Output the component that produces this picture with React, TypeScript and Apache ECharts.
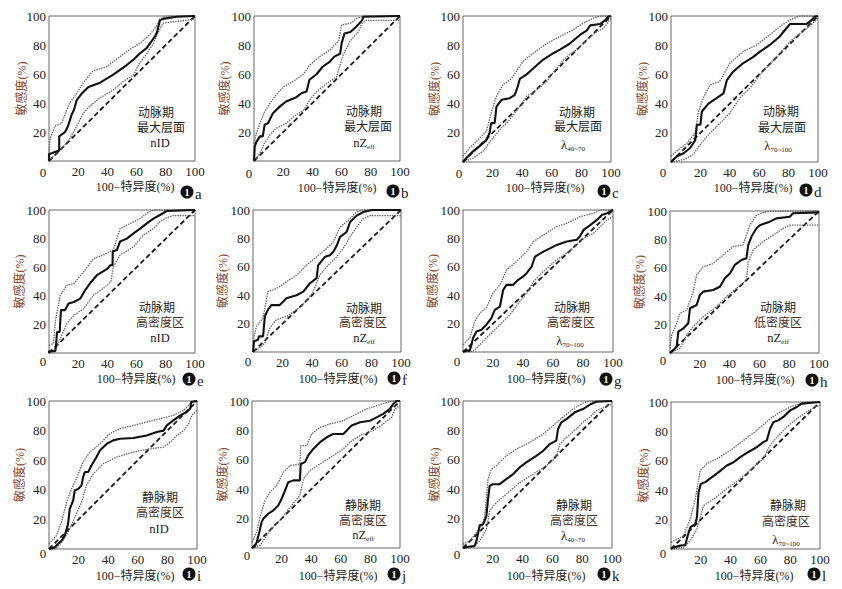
import React, { useEffect, useRef } from "react";
import * as echarts from "echarts";

// ---------- data ----------
const xTicks = [0, 20, 40, 60, 80, 100];
const diagonal = [[0, 0], [100, 100]];

const aMain = [[0,0],[0,4.6],[6.4,7],[7,7],[7,17],[11,20],[13,24],[15.5,32],[17,35],[19,42],[22,46],[27,51],[35,54],[44,59.5],[53,66],[58,70],[62,74],[67,78],[72.6,86],[74,89],[76,97],[78,98],[87.4,99.5],[100,100]];
const aUpper = [[0,5.7],[0.7,15],[4,24],[8.7,26],[14,40],[18,45],[23.5,54],[30,62],[39.5,65],[46,70],[55.5,77],[62,81],[69,87],[73.7,93],[76,98],[80.6,100],[100,100]];
const aLower = [[0,0],[5,5.7],[10,10],[14,15],[19,24],[23.5,33],[28,38],[35,43.5],[44,49],[51,55],[58,59.5],[62,67.5],[67,74],[71.5,81],[75,89],[78,95],[85,96],[94,97],[100,98]];

const bMain = [[0,0],[0.5,10],[1.6,13],[4,17],[6,17],[7.3,25],[9.6,26],[13,33],[17.6,37.5],[22,41],[29,44],[32.5,46.7],[36,48],[38,56],[43,60],[47,65],[52,68.5],[55,72],[59,74],[60,81],[62,88],[66,89],[70,92.6],[74,97],[75,99.5],[100,100]];
const bUpper = [[0,12],[1.6,19],[4,26],[7.3,34],[11,40],[15,45.5],[20,51],[27,55],[34,60],[38,66],[45,72],[52,76.5],[58,83],[60,93.8],[66,95],[70,98],[75,100],[100,100]];
const bLower = [[0,0],[4,5],[7,12],[11,18],[15,22.5],[22,26],[29,32],[34,35],[38,42],[43,48],[50,53.5],[56.5,58],[61,73],[66,83],[71.4,89],[74,95],[77,97],[100,97]];

const cMain = [[0,0],[2.3,2.7],[6.8,7.3],[11,10.7],[15.8,15],[18,20],[19,26.6],[21.4,26.6],[22.6,38],[26,42.6],[31.6,43.7],[35,46],[37,51.7],[38.4,57],[43,60],[47.4,64],[54,70],[61,74.5],[65.5,77],[72,81],[79,87],[83.5,90],[86,93.6],[92.5,94.5],[96,97],[98,99.5],[100,100]];
const cUpper = [[0,4],[4.5,9.6],[10,15],[15.8,21],[19,33.5],[22.6,45],[27,53],[32.7,57],[36,62],[40.6,69],[47.4,74.5],[56.4,81],[65.5,86],[74.5,90.6],[81,95],[88,98.4],[92.5,100],[100,100]];
const cLower = [[0,0],[6.8,2.7],[13.5,7.3],[19,15],[24.8,22],[31.6,29],[38.4,38],[43,45],[49.7,49.4],[56.4,55],[63,64],[70,72],[76.7,77],[83.5,83.6],[90,89],[95,91.6],[98,96],[100,98.4]];

const dMain = [[0,0],[4,3.9],[8.6,6],[13,9.6],[16.5,15],[17.6,25.5],[20,25.5],[21,34.6],[25.5,40],[31,43.7],[35.7,47],[38,56],[42.4,62],[49,67.6],[56,72],[60.5,75.6],[67,80],[74,86],[78.5,91.6],[81,94.5],[92,94.5],[95.5,97],[97.7,99.5],[100,100]];
const dUpper = [[0,4],[5,8.4],[11,13],[16.5,20],[18.7,34.6],[22,44],[26.6,53],[33,55],[40,67.6],[49,75.6],[58,80],[67,87],[74,92.7],[81,97.5],[87.6,100],[100,100]];
const dLower = [[0,0],[8.6,1.6],[15,5],[20,12],[25.5,18.7],[33.4,26.6],[40,33.5],[47,44],[53.7,50.6],[60.5,59.7],[67,66.5],[74,74.5],[81,82.5],[87.6,88],[94,92.7],[99,97.5],[100,98.4]];

const eMain = [[0,0],[0,1.2],[4.3,1.2],[5,7.7],[5.5,14.7],[7.3,14.7],[8.2,30],[11,30],[13.4,34.6],[17,35.7],[21.4,38],[24.8,44],[28,48.6],[32.8,54.4],[39.6,58.6],[42,61.4],[43.5,61.4],[43.7,71],[46.5,72],[48.7,78],[53.3,80],[57.9,83.6],[62.4,87],[67,90.6],[71.5,94],[76,96.5],[80.6,99.3],[100,100]];
const eUpper = [[0,5.4],[3,6.5],[4.3,21.7],[7.7,40.4],[12.3,47.4],[17,48.6],[23.7,56.8],[30.5,66],[37,68.5],[44,72],[48.7,87],[55.6,90.6],[62.4,94],[67,97.7],[71.5,100],[100,100]];
const eLower = [[0,0],[4.3,1.9],[7.7,10],[12.3,20.6],[17,26.4],[23.7,31],[30.5,40.4],[37,45],[42.4,49.8],[44,60.3],[48.7,68.5],[57.9,74.3],[64.7,82.5],[71.5,87],[76,91.8],[80.6,94.6],[85,96],[100,96]];

const fMain = [[0,0],[0.7,7.5],[3.4,8.6],[4,11],[6.8,11],[8,25],[10,29.7],[12.4,33],[18,33],[22.6,37.9],[29.4,40],[34,42.5],[38.5,48.4],[43,52],[44,61],[48.6,67],[52,68.2],[54.3,70.6],[56.6,75],[58.8,81],[63.3,84.6],[65.6,91.6],[70,96],[74.6,98.6],[80.3,100],[100,100]];
const fUpper = [[0,7.5],[2.3,18],[6.8,23.8],[10,42.5],[13.6,43.7],[18,46],[22.6,49.5],[29.4,54],[36,61],[43,67],[49.8,73],[54.3,77.6],[58.8,88],[64.5,92.8],[70,98.6],[74.6,100],[100,100]];
const fLower = [[0,0],[4.5,2.8],[8,6.3],[11.3,16.8],[15.8,22.7],[22.6,25],[29.4,29.7],[36,35.5],[40.7,42.5],[45,54],[49.8,60],[56.6,67],[61,73],[65.6,81],[70,88],[74.6,94],[79,96],[100,96]];

const gMain = [[0,0],[2.2,1],[4.5,1],[5.6,5],[6.7,9.8],[9,14.5],[12.3,15.7],[15.6,19.2],[19,24],[21.2,29.7],[24.6,32],[26.8,43.8],[29,47.3],[33.5,47.3],[36.8,50.8],[40.2,53.2],[42.4,55.5],[45.8,60.2],[48,67.2],[53.6,70.7],[58,73],[62.5,75.4],[69.2,77.8],[75.9,79],[78,81.5],[80.4,86],[85,89.5],[89.3,93],[92.6,96.5],[96,97.7],[100,100]];
const gUpper = [[0,5],[4.5,9.8],[7.8,21.5],[11.2,27.4],[15.6,31],[20,41.5],[24.6,47.3],[29,57.8],[35.7,63.7],[42.4,70.7],[47,77.8],[53.6,82.4],[62.5,88.3],[69.2,90.6],[78,95.3],[87,97.7],[91.5,100],[100,100]];
const gLower = [[0,0],[6.7,0.5],[11.2,5],[17.8,12.2],[24.6,19.2],[31.2,26.2],[38,35.6],[42.4,41.5],[47,49.6],[53.6,56.7],[62.5,65],[69.2,69.6],[76,75.4],[80.4,80],[87,83.6],[91.5,88.3],[96,93],[100,95.3]];

const hMain = [[0,0],[2.2,2],[4.5,4.5],[5.6,15],[9,17.4],[12.3,21],[13.4,31.5],[17.9,33.8],[20,40.8],[22.3,43.2],[29,44.4],[33.5,46.7],[36.8,52.6],[40.2,56],[43.5,62],[48,65.5],[51.3,66.7],[52.5,76],[54.7,82],[58,87.8],[60.3,90],[67,92.5],[71.4,94.8],[80.4,96],[82.6,98.4],[100,99]];
const hUpper = [[0,3.3],[1.1,12.7],[3.3,17.4],[6.7,28],[11.2,30.3],[15.6,43.2],[17.9,55],[22.3,60.8],[29,63],[35.7,69],[42.4,75],[49,76],[53.6,90],[58,97],[62.5,99],[69.2,100],[100,100]];
const hLower = [[0,0],[6.7,3.3],[11.2,12.7],[15.6,18.5],[22.3,25.6],[31.2,32.6],[38,39.7],[44.6,45.5],[51.3,51.4],[52.5,64.3],[55.8,72.5],[62.5,78.4],[69.2,83],[76,87.8],[80.4,90],[100,90]];

const iMain = [[0,0],[3.8,1.1],[6,3.4],[8.4,5.6],[10.6,9],[12.9,17],[14,27],[16.3,32.7],[17.4,39.5],[19.7,40.6],[22,43],[23,48.5],[24.2,52],[26.5,52],[28.7,56.4],[32,62],[34.4,66.6],[38.9,71],[43.4,73.4],[48,74.5],[57,75],[66,76.7],[72.8,79],[77.4,80],[79.6,83.5],[84,86.9],[88.7,90.3],[93,92.6],[95.5,95],[96,99.3],[100,100]];
const iUpper = [[0,3.4],[5,9],[8.4,18],[11.8,31.6],[15.2,40.6],[18.5,47.4],[23,58.7],[27.6,65.5],[34.4,71],[41,77.9],[48,81.3],[57,83.5],[66,85.8],[75,88],[84,90.3],[91,93.7],[95.5,98.2],[98,100],[100,100]];
const iLower = [[0,0],[5,0.5],[9.5,5.6],[14,13.5],[18.5,23.7],[22,31.6],[25.3,43],[29.9,50.8],[36.7,57.6],[45.7,62],[57,65.5],[68.3,67.7],[77.4,68.8],[81.9,72.2],[86.4,76.7],[91,80],[94.3,84.7],[96.6,90.3],[100,93.7]];

const jMain = [[0,0],[2,1.4],[3.2,4],[5,11],[6.5,17.6],[7.7,20],[11,23.3],[14.4,25.6],[17.8,29],[20,33.5],[22.3,39],[24.5,44.8],[28,46],[32.4,46],[32.9,57.2],[35.8,58.4],[38,63],[41.4,67.4],[46,72],[50.5,75.3],[55,77.6],[61.7,77.6],[64,79.9],[67.3,83.3],[73,85.5],[79.7,86.6],[84.2,88.9],[88.7,91.2],[93.2,94.6],[95.5,98],[97.7,100],[100,100]];
const jUpper = [[0,4],[3.2,10.9],[5.4,21],[8.8,32.3],[12.2,38],[16.7,42.5],[21.2,51.6],[25.7,56],[32.4,57.2],[32.9,69.7],[37,69.7],[40.3,77.6],[46,82],[52.7,84.4],[61.7,86.6],[70.7,91.2],[77.5,94.6],[84.2,96.8],[91,99],[94.4,100],[100,100]];
const jLower = [[0,0],[5.4,1.8],[10,8.6],[14.4,14.3],[20,20],[25.7,27.8],[32.4,35.7],[34.7,47],[39.2,52.7],[46,57.2],[55,62.9],[61.7,67.4],[66.2,72],[73,76.5],[82,80],[88.7,84.4],[94.4,89],[96.6,94.6],[100,96.8]];

const kMain = [[0,0],[4.5,1],[7.8,1.4],[9,4.8],[10,9.3],[11.2,15.5],[13.4,16],[14.5,18.4],[15.7,21.8],[16.8,33.2],[17.9,42.3],[20,43.4],[24.6,43.4],[29,46.8],[33.6,50.2],[38,54.8],[42.5,58.2],[49.2,62.7],[53.7,66],[58.2,70.7],[62.6,73],[63.8,81],[66,85.5],[69.4,87.7],[75,92.3],[80.5,94.5],[86,98],[89.5,99.5],[100,100]];
const kUpper = [[0,2.5],[4.5,4.8],[9,10.5],[12.3,15],[14.5,20.7],[16.8,46.8],[19,53.6],[22.4,56],[29,62.7],[35.8,67.3],[44.7,71.8],[53.7,77.5],[60.4,83.2],[67,88.9],[73.8,94.5],[80.5,98.6],[85,100],[100,100]];
const kLower = [[0,0],[6.7,0.7],[11.2,4.8],[15.7,12.7],[17.9,25.2],[22.4,31],[29,36.6],[38,44.5],[47,50.2],[56,56],[62.6,61.6],[65,70.7],[69.4,75.2],[76,81],[80.5,85.5],[85,88.9],[89.5,93.4],[95,95.7],[100,98]];

const lMain = [[0,0.5],[6.2,2.3],[9.6,2.7],[11.2,9],[13,14.8],[16.3,17],[17.4,21.6],[18.5,38.6],[20,44.3],[23,45.5],[27.5,48.9],[32,52.3],[37.5,56.8],[42,59],[46.4,62.5],[52,66],[57.6,69.3],[62,72.7],[64.3,73.9],[66.5,81.8],[68.8,86.4],[72,87.5],[75.4,89.8],[80,94.3],[84.4,96.6],[87.7,98.9],[100,100]];
const lUpper = [[0,4.5],[8.5,9],[13,20.5],[16.3,34],[19.6,53.4],[24,58],[30.8,61.4],[39.7,67],[48.7,73.9],[57.6,80.7],[66.5,88.6],[73.2,93.2],[80,96.6],[86.6,98.9],[91,100],[100,100]];
const lLower = [[0,0],[8.5,1.1],[13,5.7],[17.4,13.6],[21.9,29.5],[28.6,34],[37.5,41],[46.4,47.7],[55.4,55.7],[62,61.4],[66.5,70.5],[71,76],[77.7,83],[84.4,88.6],[91,93.2],[96.6,96.6],[100,97.7]];

const mainCurves = [aMain, bMain, cMain, dMain, eMain, fMain, gMain, hMain, iMain, jMain, kMain, lMain];
const upperCurves = [aUpper, bUpper, cUpper, dUpper, eUpper, fUpper, gUpper, hUpper, iUpper, jUpper, kUpper, lUpper];
const lowerCurves = [aLower, bLower, cLower, dLower, eLower, fLower, gLower, hLower, iLower, jLower, kLower, lLower];

const panelLetters = ["a", "b", "c", "d", "e", "f", "g", "h", "i", "j", "k", "l"];
const phases = ["动脉期", "动脉期", "动脉期", "动脉期", "动脉期", "动脉期", "动脉期", "动脉期", "静脉期", "静脉期", "静脉期", "静脉期"];
const regions = ["最大层面", "最大层面", "最大层面", "最大层面", "高密度区", "高密度区", "高密度区", "低密度区", "高密度区", "高密度区", "高密度区", "高密度区"];
// [base, subscript]
const params = [
  ["nID", ""], ["nZ", "eff"], ["λ", "40~70"], ["λ", "70~100"],
  ["nID", ""], ["nZ", "eff"], ["λ", "70~100"], ["nZ", "eff"],
  ["nID", ""], ["nZ", "eff"], ["λ", "40~70"], ["λ", "70~100"],
];
const xAxisTitle = "100−特异度(%)";
const yAxisTitle = "敏感度(%)";

// ---------- layout ----------
// [left, top, width, height]
const gridRects = [
  [49, 16, 146, 145], [254, 16, 146, 145], [463, 16, 148, 146], [671, 16, 147, 146],
  [49, 210, 146, 143], [253, 210, 148, 142], [463, 210, 150, 142], [670, 211, 149, 142],
  [49, 401, 148, 148], [252, 401, 148, 147], [463, 401, 149, 147], [671, 402, 149, 147],
];
// y-axis title gap per panel
const yNameGaps = [21, 23, 22, 22, 23, 24, 24, 24, 23, 23, 22, 21];
// annotation [x1,x2,x3, y1,y2,y3]
const annoPos = [
  [156, 161, 160, 113, 128, 143], [364, 368, 364, 112, 127, 143], [577, 578, 573, 113, 127, 145], [781, 782, 778, 112, 128, 146],
  [157, 160, 160, 308, 323, 338], [364, 363, 364, 309, 323, 338], [572, 571, 570, 308, 323, 341], [778, 778, 778, 308, 323, 338],
  [160, 160, 159, 498, 513, 529], [363, 363, 363, 506, 521, 535], [574, 574, 573, 506, 521, 536], [788, 786, 786, 506, 522, 540],
];
// panel badge centre
const badgePos = [
  [187, 192], [393, 191], [604, 191], [806, 190],
  [189, 379], [394, 378], [606, 379], [812, 380],
  [189, 574], [394, 574], [604, 574], [814, 574],
];
// x-axis title centre
const xTitlePos = [
  [135, 187], [337, 188], [545, 188], [753, 188],
  [136, 379], [338, 379], [546, 379], [755, 380],
  [135, 576], [338, 576], [546, 576], [754, 576],
];
// corner "0" label
const zeroPos = [
  [43, 172], [249, 173], [459, 173], [663, 172],
  [43, 361], [248, 361], [457, 361], [663, 360],
  [43, 553], [247, 555], [457, 554], [663, 553],
];

const SERIF = "Liberation Serif, DejaVu Serif, serif";
const CJK = "Liberation Serif, Noto Sans CJK SC, sans-serif";

function buildOption() {
  const grid: any[] = [];
  const xAxis: any[] = [];
  const yAxis: any[] = [];
  const series: any[] = [];
  const graphic: any[] = [];
  const fmt = (v: number) => (v === 0 ? "" : String(v));

  gridRects.forEach((r, i) => {
    grid.push({
      left: r[0], top: r[1], width: r[2], height: r[3],
      show: true, borderColor: "#666", borderWidth: 1, backgroundColor: "transparent",
    });
    xAxis.push({
      type: "value", gridIndex: i, min: 0, max: 100, interval: 20,
      axisLine: { show: false }, axisTick: { show: false }, splitLine: { show: false },
      axisLabel: { formatter: fmt, margin: 4, fontSize: 13, color: "#222", fontFamily: SERIF },
    });
    yAxis.push({
      type: "value", gridIndex: i, min: 0, max: 100, interval: 20,
      name: yAxisTitle, nameLocation: "middle", nameGap: yNameGaps[i], nameRotate: 90,
      nameMoveOverlap: false,
      nameTextStyle: { color: "#85462a", fontSize: 12, fontFamily: CJK },
      axisLine: { show: false }, axisTick: { show: false }, splitLine: { show: false },
      axisLabel: { formatter: fmt, margin: 3, fontSize: 13, color: "#222", fontFamily: SERIF },
    });
    const base = { type: "line", xAxisIndex: i, yAxisIndex: i, showSymbol: false, symbol: "none", silent: true };
    series.push({ ...base, name: "参考线" + panelLetters[i], data: diagonal, lineStyle: { color: "#1a1a1a", width: 1.8, type: [5, 3] }, z: 2 });
    series.push({ ...base, name: "95%CI下限" + panelLetters[i], data: lowerCurves[i], lineStyle: { color: "#5e5e5e", width: 1.3, type: [1.4, 1.1] }, z: 3 });
    series.push({ ...base, name: "95%CI上限" + panelLetters[i], data: upperCurves[i], lineStyle: { color: "#5e5e5e", width: 1.3, type: [1.4, 1.1] }, z: 3 });
    series.push({ ...base, name: "ROC" + panelLetters[i], data: mainCurves[i], lineStyle: { color: "#111", width: 2.1 }, z: 4 });

    const a = annoPos[i];
    graphic.push({ type: "text", x: a[0], y: a[3], style: { text: phases[i], fontSize: 12, fontFamily: CJK, fill: "#222", align: "center", verticalAlign: "middle" } });
    graphic.push({ type: "text", x: a[1], y: a[4], style: { text: regions[i], fontSize: 12, fontFamily: CJK, fill: i >= 4 ? "#4a2e1e" : "#222", align: "center", verticalAlign: "middle" } });
    const p = params[i];
    graphic.push({
      type: "text", x: a[2], y: a[5],
      style: {
        text: p[1] ? `{m|${p[0]}}{s|${p[1]}}` : `{m|${p[0]}}`,
        rich: {
          m: { fontSize: 12.5, fontFamily: SERIF, fill: "#222" },
          s: { fontSize: 7, fontFamily: SERIF, fill: "#222", padding: [8, 0, 0, 0] },
        },
        align: "center", verticalAlign: "middle",
      },
    });
    const b = badgePos[i];
    graphic.push({ type: "circle", shape: { cx: b[0], cy: b[1], r: 6.5 }, style: { fill: "#111" } });
    graphic.push({ type: "text", x: b[0], y: b[1] + 0.5, style: { text: "1", fontSize: 10, fontWeight: "bold", fontFamily: SERIF, fill: "#fff", align: "center", verticalAlign: "middle" } });
    graphic.push({ type: "text", x: b[0] + 8, y: b[1] + 2, style: { text: panelLetters[i], fontSize: 15, fontFamily: SERIF, fill: "#222", align: "left", verticalAlign: "middle" } });
    const t = xTitlePos[i];
    graphic.push({ type: "text", x: t[0], y: t[1], style: { text: xAxisTitle, fontSize: 12, fontFamily: CJK, fill: "#222", align: "center", verticalAlign: "middle" } });
    const z = zeroPos[i];
    graphic.push({ type: "text", x: z[0], y: z[1], style: { text: "0", fontSize: 13, fontFamily: SERIF, fill: "#222", align: "center", verticalAlign: "middle" } });
  });

  return { animation: false, backgroundColor: "#fff", grid, xAxis, yAxis, series, graphic };
}

export default function App() {
  const ref = useRef<HTMLDivElement>(null);
  useEffect(() => {
    if (!ref.current) return;
    const chart = echarts.init(ref.current, undefined, { renderer: "svg" });
    chart.setOption(buildOption() as any);
    return () => chart.dispose();
  }, []);
  return (
    <div
      ref={ref}
      style={{ position: "absolute", left: 0, top: 0, width: 842, height: 589, background: "#fff" }}
    />
  );
}
